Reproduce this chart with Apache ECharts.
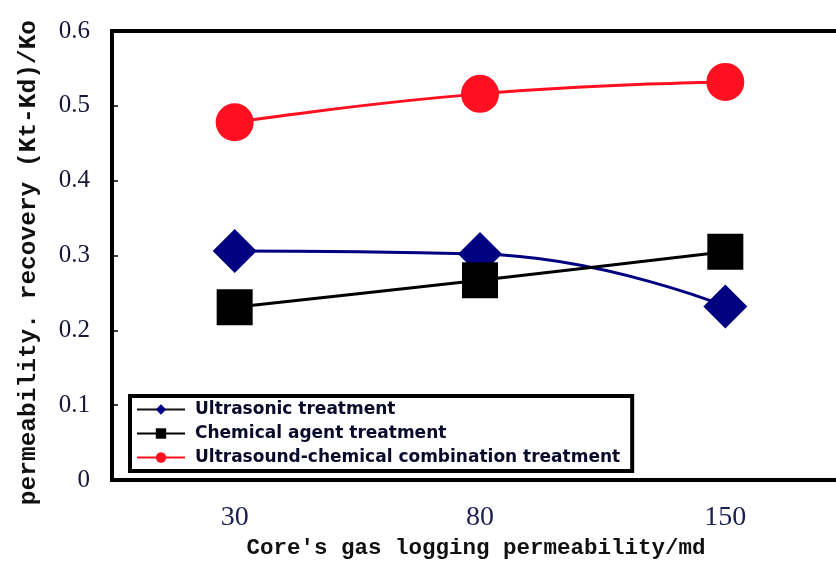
<!DOCTYPE html>
<html>
<head>
<meta charset="utf-8">
<script src="https://cdn.jsdelivr.net/npm/echarts@6/dist/echarts.min.js"></script>
<style>
  html, body { margin: 0; padding: 0; background: #fff; overflow: hidden; }
  /* the plot frame runs past the right edge of the window */
  #chart { width: 848px; height: 565px; }
</style>
</head>
<body>
<div id="chart"></div>
<script>
// Core gas logging permeability categories (md)
const categories = ['30', '80', '150'];

// Permeability recovery (Kt-Kd)/Ko for each treatment
const ultrasonicValues = [0.306, 0.302, 0.232];
const chemicalValues = [0.231, 0.267, 0.305];
const combinedValues = [0.478, 0.516, 0.532];

const seriesNames = [
  'Ultrasonic treatment',
  'Chemical agent treatment',
  'Ultrasound-chemical combination treatment'
];

const yTickLabels = ['0', '0.1', '0.2', '0.3', '0.4', '0.5', '0.6'];

const chart = echarts.init(document.getElementById('chart'), null, { renderer: 'canvas' });

chart.setOption({
  animation: false,
  backgroundColor: '#fff',
  grid: {
    left: 112,
    top: 31,
    right: 0,
    bottom: 83,
    show: true,
    borderColor: '#000',
    borderWidth: 4,
    backgroundColor: '#fff'
  },
  legend: {
    orient: 'vertical',
    left: 130,
    top: 396,
    padding: [5, 12, 5, 6],
    itemWidth: 48,
    itemHeight: 13,
    itemGap: 7,
    borderColor: '#000',
    borderWidth: 4,
    backgroundColor: '#fff',
    textStyle: {
      fontFamily: 'DejaVu Sans',
      fontWeight: 'bold',
      fontSize: 17,
      color: '#0a0a2a',
      padding: [0, 0, 0, 5]
    },
    data: [
      { name: seriesNames[0], lineStyle: { color: '#111' } },
      { name: seriesNames[1] },
      { name: seriesNames[2] }
    ]
  },
  xAxis: {
    type: 'category',
    data: categories,
    boundaryGap: true,
    name: "Core's gas logging permeability/md",
    nameLocation: 'middle',
    nameGap: 55,
    nameTextStyle: {
      fontFamily: 'Liberation Mono',
      fontWeight: 'bold',
      fontSize: 22.5,
      color: '#111',
      padding: [0, 8, 0, 0]
    },
    axisLine: { lineStyle: { color: '#000', width: 4 } },
    axisTick: { inside: true, length: 6, lineStyle: { color: '#000', width: 1.5 } },
    axisLabel: {
      margin: 24,
      fontFamily: 'Liberation Serif',
      fontSize: 28,
      color: '#1c2050'
    },
    splitLine: { show: false }
  },
  yAxis: {
    type: 'value',
    min: 0,
    max: 0.6,
    interval: 0.1,
    name: 'permeability. recovery (Kt-Kd)/Ko',
    nameLocation: 'middle',
    nameRotate: 90,
    nameGap: 71,
    nameTextStyle: {
      fontFamily: 'Liberation Mono',
      fontWeight: 'bold',
      fontSize: 24.5,
      color: '#111',
      padding: [0, 14, 0, 0]
    },
    axisLine: { show: true, lineStyle: { color: '#000', width: 4 } },
    axisTick: { show: true, inside: true, length: 6, lineStyle: { color: '#000', width: 1.5 } },
    axisLabel: {
      margin: 22,
      fontFamily: 'Liberation Serif',
      fontSize: 25,
      color: '#15153a',
      formatter: function (v) {
        return yTickLabels[Math.round(v * 10)];
      }
    },
    splitLine: { show: false }
  },
  series: [
    {
      name: seriesNames[0],
      type: 'line',
      data: ultrasonicValues,
      smooth: 0.5,
      symbol: 'diamond',
      symbolSize: [44, 44],
      color: '#000080',
      lineStyle: { color: '#000080', width: 3 },
      itemStyle: { color: '#000080' }
    },
    {
      name: seriesNames[1],
      type: 'line',
      data: chemicalValues,
      smooth: 0.3,
      symbol: 'rect',
      symbolSize: 36,
      color: '#000',
      lineStyle: { color: '#000', width: 3 },
      itemStyle: { color: '#000' }
    },
    {
      name: seriesNames[2],
      type: 'line',
      data: combinedValues,
      smooth: 0.5,
      symbol: 'circle',
      symbolSize: 38,
      color: '#ff1020',
      lineStyle: { color: '#ff1020', width: 3 },
      itemStyle: { color: '#ff1020' }
    }
  ]
});
</script>
</body>
</html>
